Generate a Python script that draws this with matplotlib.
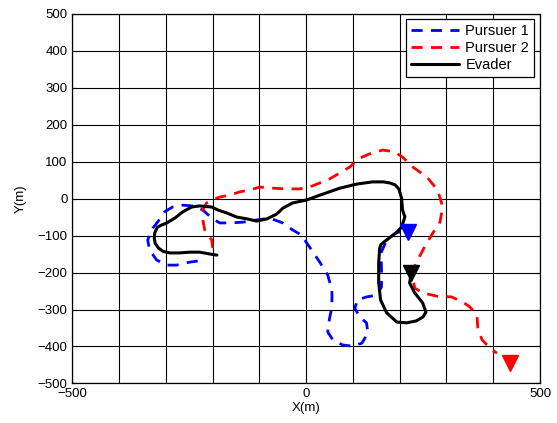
import matplotlib
matplotlib.use("Agg")
import matplotlib.pyplot as plt
import numpy as np
from matplotlib.ticker import MultipleLocator

plt.rcParams['font.family'] = ['Liberation Sans', 'DejaVu Sans']

# Evader trajectory
ev_x = [-191, -206, -228, -249, -271, -292, -306, -316, -323, -325, -324, -318, -308, -298, -281, -264, -245, -228,
        -202, -189, -170, -149, -127, -106, -84, -63, -50, -29, 1, 29, 72, 108, 142, 165, 179, 190, 198, 204,
        206, 211, 204, 194, 172, 160, 157, 155, 155, 159, 172, 194, 215, 235, 250, 256, 249, 232, 221, 225]
ev_y = [-153, -150, -145, -145, -147, -147, -143, -134, -121, -106, -93, -77, -71, -66, -53, -36, -23, -20,
        -23, -31, -39, -50, -55, -61, -55, -42, -26, -12, -4, 9, 28, 39, 45, 45, 42, 37, 26, 1,
        -31, -50, -77, -91, -112, -124, -135, -174, -228, -274, -309, -334, -336, -331, -320, -307, -282, -255, -228, -201]

# Pursuer 1 trajectory
p1_x = [-232, -249, -277, -298, -320, -335, -339, -328, -318, -303, -286, -264, -243, -221, -202,
        -185, -164, -136, -106, -78, -50, -29, -10, 7, 29, 46, 55, 55, 50, 46, 57, 78, 99, 119, 132,
        129, 114, 104, 110, 129, 151, 161, 161, 160, 172, 194, 217]
p1_y = [-169, -172, -180, -180, -166, -139, -112, -80, -64, -36, -23, -18, -20, -31, -53,
        -66, -66, -64, -58, -53, -66, -85, -99, -131, -172, -207, -247, -293, -323, -361, -382, -396, -399, -391, -364,
        -336, -320, -296, -274, -266, -261, -239, -193, -147, -112, -91, -91]

# Pursuer 2 trajectory
p2_x = [-200, -202, -217, -221, -221, -213, -202, -185, -164, -142, -121, -99, -72, -42, -14, 7, 29,
        50, 72, 93, 114, 140, 164, 189, 206, 228, 258, 281, 292, 286, 271, 253, 236, 226, 232, 249,
        279, 311, 335, 350, 365, 367, 376, 397, 408]
p2_y = [-134, -112, -85, -58, -31, -12, -4, 4, 9, 18, 23, 31, 28, 26, 26, 31, 42,
        53, 69, 85, 109, 123, 131, 126, 112, 85, 58, 23, -23, -64, -93, -131, -172, -199, -242, -255,
        -264, -266, -280, -293, -315, -350, -382, -409, -418]

# Triangle markers
mk_x = [217, 225, 435]
mk_y = [-91, -201, -445]
mk_colors = ['blue', 'black', 'red']

fig = plt.figure(figsize=(5.57, 4.23), dpi=100)
ax = fig.add_axes([0.130, 0.0934, 0.8395, 0.8746])

ax.plot(p1_x, p1_y, color='blue', linestyle=(0, (4, 3)), linewidth=2.0, label='Pursuer 1',
        dash_joinstyle='round')
ax.plot(p2_x, p2_y, color='red', linestyle=(0, (4, 3)), linewidth=2.0, label='Pursuer 2',
        dash_joinstyle='round')
ax.plot(ev_x, ev_y, color='black', linestyle='-', linewidth=2.2, label='Evader',
        solid_joinstyle='round', solid_capstyle='round')

for x, y, c in zip(mk_x, mk_y, mk_colors):
    ax.plot([x], [y], marker='v', color=c, markersize=11, linestyle='none')

ax.set_xlim(-500, 500)
ax.set_ylim(-500, 500)
ax.set_xticks([-500, 0, 500])
ax.xaxis.set_minor_locator(MultipleLocator(100))
ax.set_yticks(np.arange(-500, 501, 100))
ax.grid(True, which='both', color='black', linewidth=0.8, linestyle='-')
ax.tick_params(axis='both', which='both', direction='in', labelsize=9.5, length=3, top=True, right=True)
ax.tick_params(which='minor', length=0)
ax.set_xlabel('X(m)', fontsize=9.5, labelpad=1)
ax.set_ylabel('Y(m)', fontsize=9.5, labelpad=8)
for s in ax.spines.values():
    s.set_linewidth(0.9)

leg = ax.legend(loc='upper right', fontsize=10.5, fancybox=False, edgecolor='black',
                framealpha=1, borderpad=0.35, handlelength=3.3, labelspacing=0.2,
                handletextpad=0.4, borderaxespad=0.4)
leg.get_frame().set_linewidth(0.9)

fig.savefig('out.png', dpi=100)
